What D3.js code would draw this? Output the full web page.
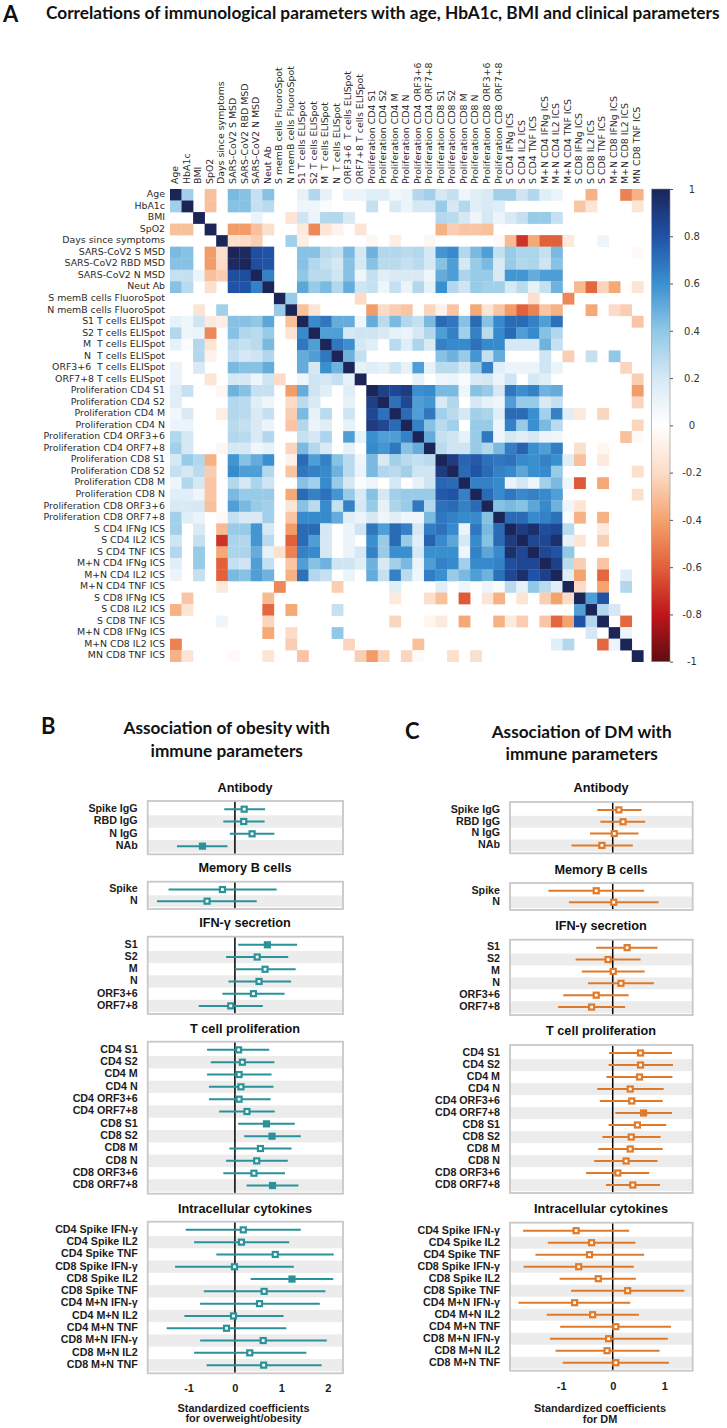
<!DOCTYPE html>
<html><head><meta charset="utf-8">
<script src="https://cdn.jsdelivr.net/npm/d3@7"></script>
<style>html,body{margin:0;padding:0;background:#fff}svg{display:block}</style>
</head><body><svg id="c" width="727" height="1428"></svg>
<script>
// ---------- Heatmap data ----------
const params = ["Age","HbA1c","BMI","SpO2","Days since symptoms","SARS-CoV2 S MSD","SARS-CoV2 RBD MSD","SARS-CoV2 N MSD","Neut Ab","S memB cells FluoroSpot","N memB cells FluoroSpot","S1 T cells ELISpot","S2 T cells ELISpot","M  T cells ELISpot","N  T cells ELISpot","ORF3+6  T cells ELISpot","ORF7+8 T cells ELISpot","Proliferation CD4 S1","Proliferation CD4 S2","Proliferation CD4 M","Proliferation CD4 N","Proliferation CD4 ORF3+6","Proliferation CD4 ORF7+8","Proliferation CD8 S1","Proliferation CD8 S2","Proliferation CD8 M","Proliferation CD8 N","Proliferation CD8 ORF3+6","Proliferation CD8 ORF7+8","S CD4 IFNg ICS","S CD4 IL2 ICS","S CD4 TNF ICS","M+N CD4 IFNg ICS","M+N CD4 IL2 ICS","M+N CD4 TNF ICS","S CD8 IFNg ICS","S CD8 IL2 ICS","S CD8 TNF ICS","M+N CD8 IFNg ICS","M+N CD8 IL2 ICS","MN CD8 TNF ICS"];
// upper triangle of the correlation matrix (percent), one entry per row: {column: r}
const corrUpper = [
{1:35,3:-30,5:45,6:42,7:25,8:42,11:12,12:30,13:12,15:10,16:10,17:15,18:15,19:7,20:10,21:30,22:35,23:20,24:25,25:8,26:15,27:18,28:35,29:35,30:22,31:30,32:15,33:10,36:-35,39:-50,40:-35},
{3:-30,5:42,6:42,7:25,8:28,11:8,12:8,13:3,17:25,19:18,20:10,21:20,22:20,23:38,24:20,25:30,26:15,27:18,28:15,35:-28,36:-15,40:-15},
{7:10,10:-15,11:22,12:10,13:30,14:30,15:18,23:30,24:28,25:20,26:8,27:20,28:10,29:18,30:25,31:38,32:38,33:25},
{5:-42,6:-42,7:-30,8:-18,11:-12,12:-48,13:-15,14:-7,16:-15,23:-35,24:-25,25:-28,26:-28,27:-30},
{5:-18,6:-20,7:-25,10:35,11:-10,17:-5,19:-10,22:-5,28:-3,29:-32,30:-72,31:-38,32:-60,33:-60,34:-12,37:8},
{6:98,7:82,8:80,11:42,12:42,13:28,14:25,15:45,16:20,17:48,18:30,19:30,20:28,21:30,22:20,23:58,24:62,25:30,26:45,27:55,28:25,29:38,30:32,31:32,32:25,33:45,40:-3},
{7:82,8:80,11:42,12:30,13:25,14:20,15:42,16:20,17:42,18:28,19:28,20:25,21:28,22:20,23:42,24:55,25:20,26:38,27:45,28:18,29:38,30:30,31:32,32:22,33:42},
{8:65,11:40,12:28,13:28,14:22,15:42,16:8,17:25,18:15,19:18,20:18,21:18,22:8,23:50,24:55,25:32,26:38,27:38,28:18,29:58,30:58,31:50,32:55,33:55},
{11:52,12:38,13:45,14:30,15:50,16:22,17:25,18:8,19:25,20:10,21:30,22:12,23:60,24:30,25:22,26:38,27:35,28:35,29:20,30:28,31:12,32:25,33:48,35:-32,36:-58,37:-22,38:-38,40:-15},
{10:38,16:-20,31:-18,34:-48},
{11:-30,12:-15,17:-42,18:-20,19:-25,20:-28,22:-22,23:-8,24:-28,26:-38,27:-15,28:-28,29:-42,30:-60,31:-50,32:-28,33:-35,36:-38,38:-20,39:-25},
{12:62,13:68,14:50,15:50,16:8,17:50,18:28,19:45,20:30,21:25,22:45,23:72,24:68,25:42,26:72,27:42,28:62,29:72,30:72,31:65,32:55,33:70,40:-28},
{13:55,14:55,15:20,16:22,17:22,18:18,19:12,20:10,21:20,22:30,23:55,24:65,25:35,26:65,27:28,28:62,29:72,30:55,31:62,32:42,33:30},
{14:68,15:60,16:20,17:15,19:28,20:15,21:32,22:18,23:65,24:62,25:62,26:70,27:62,28:62,29:20,30:20,31:20,32:48,33:25},
{15:48,16:25,23:42,24:48,25:38,26:58,27:25,28:50,32:22,34:-25,36:25,38:40},
{16:12,17:15,18:12,19:22,20:12,21:55,22:12,23:28,24:28,25:20,26:38,27:65,28:15,29:10,30:10,31:10,32:22,33:10,39:-22},
{21:12,23:8,24:10,25:3,26:18,27:20,28:10,29:22,31:20,32:15,40:-25},
{18:88,19:85,20:90,21:60,22:62,23:45,24:45,25:8,26:42,27:38,28:20,29:68,30:60,31:65,32:48,33:50,40:-42},
{19:70,20:85,21:55,22:58,23:18,24:30,26:20,27:12,28:8,29:55,30:38,31:38,32:18,33:25,40:-22},
{20:72,21:55,22:68,23:35,24:28,25:20,26:35,27:32,28:15,29:72,30:72,31:60,32:35,33:65,34:15,35:-12,37:-22},
{21:65,22:42,23:28,24:35,26:38,27:38,28:8,29:65,30:38,31:60,32:45,33:28,40:-22},
{22:50,23:25,24:22,25:12,26:38,27:68,28:8,29:20,30:15,31:20,32:10,33:8,39:-30,40:-3},
{23:28,24:22,25:22,26:38,27:30,28:45,29:66,30:75,31:60,32:55,33:66,35:-18,37:-5},
{24:90,25:74,26:78,27:70,28:68,29:70,30:62,31:60,32:65,33:60,34:15,35:-30,37:-12},
{25:72,26:80,27:72,28:65,29:62,30:52,31:60,32:62,33:38,40:-18},
{26:65,27:65,28:62,29:10,30:20,31:8,32:35,33:45,34:8,35:-62,37:-38},
{27:72,28:62,29:68,30:62,31:65,32:62,33:55,40:-18},
{28:42,29:45,30:42,31:52,32:62,33:48,34:8,35:-15},
{29:72,30:72,31:62,32:65,33:70,34:3,35:-35,37:-35},
{30:90,31:95,32:82,33:85,34:28,37:-12},
{31:85,32:85,33:95,34:12,35:-15,37:-25},
{32:85,33:80,34:40},
{33:88,34:28,35:-25,37:-28},
{34:15,35:-40,37:-58,39:15},
{35:-20,37:-40,39:30},
{36:55,37:80},
{37:30,38:20},
{39:-58},
{39:10},
{},
{}
];
const colorDomain = [-1,-0.8,-0.6,-0.4,-0.2,0,0.2,0.4,0.6,0.8,1];
const colorRange = ["#5e0d12","#c0151c","#e2603a","#f4a36e","#fcdcc8","#ffffff","#d6e8f4","#90c8e6","#3a90cf","#2052a6","#1b2558"];
const colorTicks = [1,0.8,0.6,0.4,0.2,0,-0.2,-0.4,-0.6,-0.8,-1];

// ---------- Forest plot data ----------
const groupTitles = ["Antibody","Memory B cells","IFN-γ secretion","T cell proliferation","Intracellular cytokines"];
const antibodyLabels = ["Spike IgG","RBD IgG","N IgG","NAb"];
const memoryLabels = ["Spike","N"];
const ifnLabels = ["S1","S2","M","N","ORF3+6","ORF7+8"];
const prolifLabels = ["CD4 S1","CD4 S2","CD4 M","CD4 N","CD4 ORF3+6","CD4 ORF7+8","CD8 S1","CD8 S2","CD8 M","CD8 N","CD8 ORF3+6","CD8 ORF7+8"];
const cytoLabels = ["CD4 Spike IFN-γ","CD4 Spike IL2","CD4 Spike TNF","CD8 Spike IFN-γ","CD8 Spike IL2","CD8 Spike TNF","CD4 M+N IFN-γ","CD4 M+N IL2","CD4 M+N TNF","CD8 M+N IFN-γ","CD8 M+N IL2","CD8 M+N TNF"];
// [lower, estimate, upper]
const obAntibody = [[-.23,.2,.65],[-.25,.19,.64],[-.11,.37,.85],[-1.25,-.7,-.16]];
const obMemory = [[-1.43,-.27,.9],[-1.68,-.6,.47]];
const obIfn = [[.07,.7,1.34],[-.19,.48,1.15],[0,.65,1.31],[-.14,.52,1.21],[-.27,.4,1.07],[-.78,-.09,.6]];
const obProlif = [[-.6,.08,.74],[-.52,.16,.85],[-.6,.09,.79],[-.56,.13,.83],[-.56,.09,.77],[-.34,.26,.86],[.07,.68,1.29],[.2,.8,1.42],[-.12,.55,1.22],[-.19,.47,1.14],[-.25,.41,1.08],[.25,.81,1.37]];
const obCyto = [[-1.06,.18,1.42],[-.88,.14,1.17],[-.4,.87,2.13],[-1.29,-.01,1.27],[.34,1.23,2.12],[-.67,.63,1.95],[-.75,.53,1.83],[-1.09,-.03,1.05],[-1.47,-.18,1.11],[-.75,.61,1.98],[-.88,.32,1.54],[-.61,.62,1.87]];
const dmAntibody = [[-.3,.12,.56],[-.24,.2,.63],[-.44,.03,.5],[-.8,-.21,.39]];
const dmMemory = [[-1.25,-.32,.61],[-.85,.02,.89]];
const dmIfn = [[-.32,.28,.87],[-.72,-.09,.54],[-.6,.01,.62],[-.48,.16,.8],[-.96,-.32,.31],[-1.06,-.41,.24]];
const dmProlif = [[-.07,.54,1.15],[-.08,.54,1.17],[-.12,.52,1.16],[-.3,.34,.99],[-.25,.37,.97],[.05,.6,1.15],[-.08,.48,1.04],[-.2,.36,.93],[-.28,.34,.97],[-.36,.26,.87],[-.52,.1,.71],[-.13,.39,.92]];
const dmCyto = [[-1.74,-.71,.32],[-1.26,-.41,.44],[-1.5,-.45,.61],[-1.73,-.66,.41],[-1.03,-.28,.45],[-.81,.29,1.39],[-1.83,-.74,.34],[-1.28,-.39,.51],[-1.02,.06,1.13],[-1.22,-.08,1.07],[-1.11,-.11,.91],[-.97,.06,1.09]];
const obTicks = [-1,0,1,2];
const dmTicks = [-1,0,1];

// ---------- Drawing ----------
const svg = d3.select("#c");
const CAL = "Lato, 'Open Sans', sans-serif", DJV = "'DejaVu Sans', sans-serif", ARI = "'Liberation Sans', Arial, sans-serif";
function txt(x,y,s,size,font,weight,anchor,fill){
  return svg.append("text").attr("x",x).attr("y",y).attr("font-size",size).attr("font-family",font)
    .attr("font-weight",weight||"normal").attr("text-anchor",anchor||"start").attr("dominant-baseline","middle")
    .attr("fill",fill||"#111").text(s);
}
txt(3,16,"A",22,CAL,"bold");
txt(46,15,"Correlations of immunological parameters with age, HbA1c, BMI and clinical parameters",17.3,CAL,"bold");

// heatmap
const band = d3.scaleBand().domain(d3.range(params.length));
const hx = band.copy().range([170,643.3]);
const hy = band.copy().range([189,661.7]);
const color = d3.scaleLinear().domain(colorDomain).range(colorRange).clamp(true);
const cells = [];
params.forEach((_,i)=>{
  cells.push({r:i,c:i,v:1});
  Object.entries(corrUpper[i]).forEach(([c,v])=>{
    cells.push({r:i,c:+c,v:v/100},{r:+c,c:i,v:v/100});
  });
});
svg.append("g").selectAll("rect").data(cells).join("rect")
  .attr("x",d=>hx(d.c)).attr("y",d=>hy(d.r))
  .attr("width",hx.bandwidth()+0.3).attr("height",hy.bandwidth()+0.3)
  .attr("fill",d=>color(d.v));
svg.append("g").selectAll("text").data(params).join("text")
  .attr("x",165).attr("y",(d,i)=>hy(i)+hy.bandwidth()/2).attr("dominant-baseline","middle")
  .attr("text-anchor","end").attr("font-family",DJV).attr("font-size",9.4).attr("fill","#2b2b2b")
  .style("white-space","pre").text(d=>d);
svg.append("g").selectAll("text").data(params).join("text")
  .attr("transform",(d,i)=>`translate(${hx(i)+hx.bandwidth()/2},184) rotate(-90)`)
  .attr("dominant-baseline","middle").attr("font-family",DJV).attr("font-size",9.4).attr("fill","#2b2b2b")
  .style("white-space","pre").text(d=>d);

// colour bar
const defs = svg.append("defs");
const grad = defs.append("linearGradient").attr("id","cbar").attr("x1",0).attr("x2",0).attr("y1",1).attr("y2",0);
grad.selectAll("stop").data(colorDomain).join("stop")
  .attr("offset",d=>(d+1)/2).attr("stop-color",d=>color(d));
svg.append("rect").attr("x",651.7).attr("y",189).attr("width",18.3).attr("height",472.7)
  .attr("fill","url(#cbar)").attr("stroke","#8a8a8a").attr("stroke-width",0.6);
const cbScale = d3.scaleLinear().domain([-1,1]).range([661.7,189]);
const cbAxis = svg.append("g").attr("transform","translate(670,0)")
  .call(d3.axisRight(cbScale).tickValues(colorTicks).tickSize(3).tickPadding(0).tickFormat(d=>String(d)));
cbAxis.select(".domain").remove();
cbAxis.selectAll("line").attr("stroke","#555");
cbAxis.selectAll("text").attr("x",22).attr("text-anchor","middle").attr("font-family",DJV).attr("font-size",10).attr("fill","#333");

// forest plots
function forest(cfg){
  const x = d3.scaleLinear().domain(cfg.domain).range([cfg.left,cfg.right]);
  cfg.groups.forEach((g,gi)=>{
    const gg = svg.append("g");
    const y = d3.scaleBand().domain(g.labels).range([g.top+2,g.bottom-2]);
    gg.selectAll("rect.s").data(g.labels.filter((_,i)=>i%2==1)).join("rect").attr("class","s")
      .attr("x",cfg.left).attr("width",cfg.right-cfg.left).attr("y",d=>y(d)).attr("height",y.bandwidth()).attr("fill","#ececec");
    gg.append("line").attr("x1",x(0)).attr("x2",x(0)).attr("y1",g.top).attr("y2",g.bottom).attr("stroke","#000").attr("stroke-width",1.5);
    gg.append("rect").attr("x",cfg.left).attr("y",g.top).attr("width",cfg.right-cfg.left).attr("height",g.bottom-g.top)
      .attr("fill","none").attr("stroke","#c8c8c8").attr("stroke-width",1.8);
    const rows = g.labels.map((l,i)=>({l,lo:g.vals[i][0],m:g.vals[i][1],hi:g.vals[i][2]}));
    const cy = d=>y(d.l)+y.bandwidth()/2;
    gg.selectAll("line.ci").data(rows).join("line").attr("class","ci")
      .attr("x1",d=>x(d.lo)).attr("x2",d=>x(d.hi)).attr("y1",cy).attr("y2",cy)
      .attr("stroke",cfg.color).attr("stroke-width",2);
    gg.selectAll("rect.m").data(rows).join("rect").attr("class","m")
      .attr("x",d=>x(d.m)-3.6).attr("y",d=>cy(d)-3.6).attr("width",7.2).attr("height",7.2)
      .attr("fill",cfg.color);
    gg.selectAll("rect.o").data(rows.filter(d=>d.lo<=0&&d.hi>=0)).join("rect").attr("class","o")
      .attr("x",d=>x(d.m)-1.4).attr("y",d=>cy(d)-1.4).attr("width",2.8).attr("height",2.8).attr("fill","#fff");
    gg.selectAll("text").data(rows).join("text")
      .attr("x",cfg.labelX).attr("y",cy).attr("dominant-baseline","middle").attr("text-anchor","end")
      .attr("font-family",ARI).attr("font-weight","bold").attr("font-size",10.7).attr("fill","#1c1c1c").text(d=>d.l);
    txt(cfg.titleX,g.titleY,groupTitles[gi],12.7,ARI,"bold","middle","#111");
  });
  const ax = svg.append("g").attr("transform",`translate(0,${cfg.tickY})`)
    .call(d3.axisBottom(x).tickValues(cfg.ticks).tickSize(0).tickPadding(0).tickFormat(d=>String(d)));
  ax.select(".domain").remove();
  ax.selectAll("text").attr("y",0).attr("dy",0).attr("dominant-baseline","middle")
    .attr("font-family",ARI).attr("font-weight","bold").attr("font-size",11).attr("fill","#1c1c1c");
  txt(cfg.axisX,1409,cfg.axis1,10.9,ARI,"bold","middle","#1c1c1c");
  txt(cfg.axisX,cfg.axis2Y,cfg.axis2,10.9,ARI,"bold","middle","#1c1c1c");
  txt(cfg.headX,cfg.headY[0],cfg.head[0],17.2,CAL,"bold","middle");
  txt(cfg.headX,cfg.headY[1],cfg.head[1],17.2,CAL,"bold","middle");
  txt(cfg.letter[1],cfg.letter[2],cfg.letter[0],22,CAL,"bold");
}
forest({
  color:"#2a9298",domain:[-1.88,2.33],left:147.7,right:343,labelX:137.7,titleX:245,ticks:obTicks,tickY:1389,
  axisX:243.5,axis1:"Standardized coefficients",axis2:"for overweight/obesity",axis2Y:1419.5,
  head:["Association of obesity with","immune parameters"],headX:226.7,headY:[730,752.7],letter:["B",41,728],
  groups:[
    {labels:antibodyLabels,vals:obAntibody,titleY:789,top:801,bottom:854.3},
    {labels:memoryLabels,vals:obMemory,titleY:869,top:881.7,bottom:909},
    {labels:ifnLabels,vals:obIfn,titleY:924,top:936.7,bottom:1014},
    {labels:prolifLabels,vals:obProlif,titleY:1029.3,top:1041.7,bottom:1193.7},
    {labels:cytoLabels,vals:obCyto,titleY:1209.3,top:1221.7,bottom:1373.3}
  ]});
forest({
  color:"#e07a28",domain:[-1.994,1.553],left:510,right:692.7,labelX:500,titleX:601,ticks:dmTicks,tickY:1387.3,
  axisX:600,axis1:"Standardized coefficients",axis2:"for DM",axis2Y:1420.3,
  head:["Association of DM with","immune parameters"],headX:581.7,headY:[734,756],letter:["C",405,733],
  groups:[
    {labels:antibodyLabels,vals:dmAntibody,titleY:789,top:802,bottom:853.3},
    {labels:memoryLabels,vals:dmMemory,titleY:870.3,top:883,bottom:910},
    {labels:ifnLabels,vals:dmIfn,titleY:926.7,top:939.7,bottom:1015},
    {labels:prolifLabels,vals:dmProlif,titleY:1032,top:1045,bottom:1193},
    {labels:cytoLabels,vals:dmCyto,titleY:1210,top:1222.7,bottom:1370.7}
  ]});
</script></body></html>
